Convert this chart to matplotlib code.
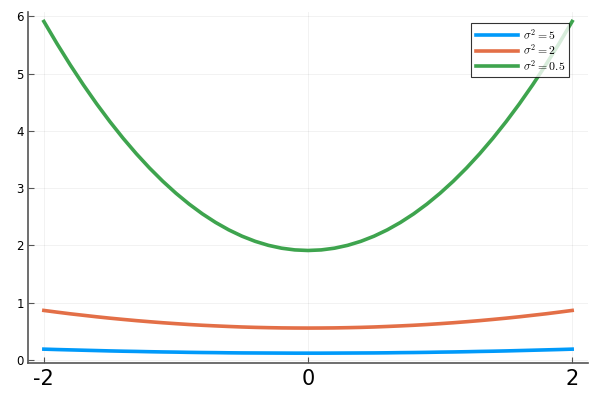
import numpy as np
import matplotlib
matplotlib.use("Agg")
import matplotlib.pyplot as plt

plt.rcParams['mathtext.fontset'] = 'cm'

# values at x = 0, 0.1, ..., 2 (curves are symmetric about 0)
half_x = [0.0, 0.1, 0.2, 0.3, 0.4, 0.5, 0.6, 0.7, 0.8, 0.9, 1.0,
          1.1, 1.2, 1.3, 1.4, 1.5, 1.6, 1.7, 1.8, 1.9, 2.0]
half_s5 = [0.117, 0.117, 0.118, 0.119, 0.120, 0.121, 0.123, 0.126, 0.128, 0.131, 0.135,
           0.138, 0.142, 0.147, 0.151, 0.156, 0.162, 0.168, 0.174, 0.180, 0.187]
half_s2 = [0.555, 0.556, 0.558, 0.562, 0.567, 0.574, 0.583, 0.593, 0.604, 0.617, 0.632,
           0.648, 0.666, 0.685, 0.706, 0.728, 0.752, 0.778, 0.804, 0.833, 0.863]
half_s05 = [1.91, 1.92, 1.95, 2.00, 2.07, 2.16, 2.27, 2.40, 2.55, 2.72, 2.91,
            3.12, 3.35, 3.60, 3.87, 4.16, 4.47, 4.80, 5.15, 5.52, 5.91]

x = [-v for v in half_x[:0:-1]] + half_x
y_s5 = half_s5[:0:-1] + half_s5
y_s2 = half_s2[:0:-1] + half_s2
y_s05 = half_s05[:0:-1] + half_s05

labels = [r'$\sigma^2 = 5$', r'$\sigma^2 = 2$', r'$\sigma^2 = 0.5$']
colors = ['#009AFA', '#E36F47', '#3EA44E']

fig = plt.figure(figsize=(6, 4), dpi=100)
ax = fig.add_axes([0.0467, 0.0925, 0.9333, 0.8775])

for ys, lab, c in zip([y_s5, y_s2, y_s05], labels, colors):
    ax.plot(x, ys, color=c, lw=2.6, label=lab, solid_joinstyle='round')

ax.set_xlim(-2.12, 2.12)
ax.set_ylim(-0.055, 6.075)
ax.set_xticks([-2, 0, 2])
ax.set_xticklabels(['-2', '0', '2'])
ax.set_yticks([0, 1, 2, 3, 4, 5, 6])

ax.grid(True, color='black', alpha=0.06, lw=0.6)
for side in ['top', 'right']:
    ax.spines[side].set_visible(False)
for side in ['left', 'bottom']:
    ax.spines[side].set_color('#555555')
    ax.spines[side].set_linewidth(1.2)

ax.tick_params(axis='x', direction='in', length=4, labelsize=15, pad=4, color='#555555')
ax.tick_params(axis='y', direction='in', length=4, labelsize=8.5, pad=3, color='#555555')

leg = ax.legend(loc='upper right', bbox_to_anchor=(0.977, 0.985), fontsize=8.5,
                frameon=True, fancybox=False, handlelength=3.6,
                borderpad=0.35, labelspacing=0.05, handletextpad=0.4)
leg.get_frame().set_edgecolor('black')
leg.get_frame().set_linewidth(0.8)

fig.savefig('out.png', dpi=100)
